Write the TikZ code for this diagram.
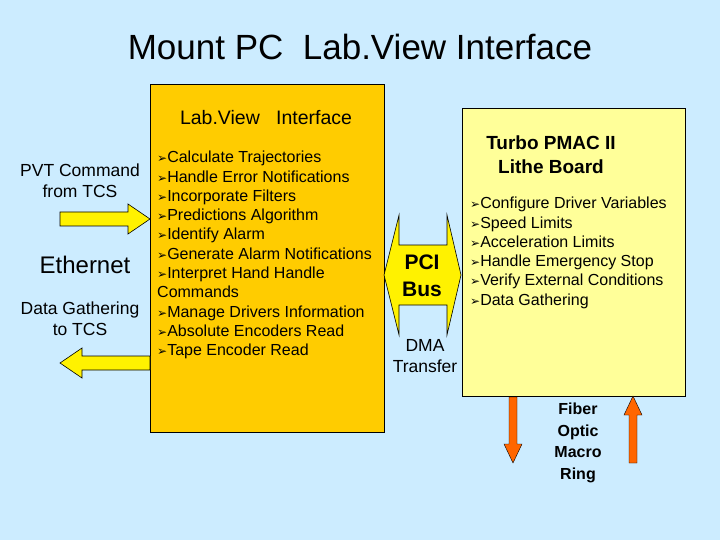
\documentclass[tikz,border=0pt]{standalone}
\usepackage{fontspec}
\setmainfont{Liberation Sans}
\newfontfamily\dejavu{DejaVu Sans}
\usetikzlibrary{positioning}
\definecolor{slideblue}{RGB}{204,236,255}
\definecolor{boxorange}{RGB}{255,204,0}
\definecolor{boxyellow}{RGB}{255,255,153}
\definecolor{fiberorange}{RGB}{255,102,0}
\newcommand{\itm}{{\dejavu\fontsize{12}{12}\selectfont\char"27A2}}
\tikzset{
  box/.style={draw=black, line width=0.6pt, anchor=north west, inner sep=0pt},
  fatarrow/.style={draw=black, line width=0.6pt, fill=yellow},
  fiber/.style={draw=black, line width=0.4pt, fill=fiberorange},
  lbl/.style={align=center, font=\fontsize{17.5}{21}\selectfont},
  items/.style={anchor=north west, align=left, inner sep=0pt, font=\fontsize{16}{19.3}\selectfont}
}
\begin{document}
\begin{tikzpicture}[x=1pt,y=-1pt]
        \fill [slideblue] (0,0) rectangle (720,540);
        \useasboundingbox (0,0) rectangle (720,540);
        \node (Title) at (360,47) {\fontsize{35}{38}\selectfont Mount PC\ \ Lab.View Interface};
        % boxes
        \node [box, fill=boxorange, minimum width=234pt, minimum height=348pt] (LabView) at (150,84) {};
        \node [box, fill=boxyellow, minimum width=223pt, minimum height=288pt] (PMAC) at (462,108) {};
        \node [font=\fontsize{19.5}{22}\selectfont] (LabViewTitle) at (266,118) {Lab.View\ \ \ Interface};
        \node [items] (LabViewItems) at (157,151) {
            \itm Calculate Trajectories \\
            \itm Handle Error Notifications \\
            \itm Incorporate Filters \\
            \itm Predictions Algorithm \\
            \itm Identify Alarm \\
            \itm Generate Alarm Notifications \\
            \itm Interpret Hand Handle \\
            Commands \\
            \itm Manage Drivers Information \\
            \itm Absolute Encoders Read \\
            \itm Tape Encoder Read
        };
        \node [align=center, font=\bfseries\fontsize{19}{24}\selectfont] (PMACTitle) at (551,155) {Turbo PMAC II\\ Lithe Board};
        \node [items] (PMACItems) at (470,197) {
            \itm Configure Driver Variables \\
            \itm Speed Limits \\
            \itm Acceleration Limits \\
            \itm Handle Emergency Stop \\
            \itm Verify External Conditions \\
            \itm Data Gathering
        };
        % left side
        \node [lbl] (PVT) at (80,181) {PVT Command\\from TCS};
        \node [font=\fontsize{24}{26}\selectfont] (Ethernet) at (85,265) {Ethernet};
        \node [lbl] (Gathering) at (80,319) {Data Gathering\\to TCS};
        \draw [fatarrow] (60,212) -- (128,212) -- (128,204) -- (LabView.west |- 0,219) -- (128,234) -- (128,226) -- (60,226) -- cycle;
        \draw [fatarrow] (LabView.west |- 0,356) -- (82,356) -- (82,348) -- (60,363) -- (82,378) -- (82,370) -- (LabView.west |- 0,370) -- cycle;
        % PCI bus
        \draw [fatarrow] (384,275) -- (399,215) -- (399,245) -- (447,245) -- (447,215) -- (461,275)
            -- (447,335) -- (447,305) -- (399,305) -- (399,335) -- cycle;
        \node [align=center, font=\bfseries\fontsize{21}{27}\selectfont] (PCI) at (422,276) {PCI\\Bus};
        \node [lbl] (DMA) at (425,356) {DMA\\Transfer};
        % fiber optic ring
        \node [align=center, font=\bfseries\fontsize{16}{21.5}\selectfont] (Fiber) at (578,443) {Fiber\\Optic\\Macro\\Ring};
        \draw [fiber] (509,397) -- (517,397) -- (517,444) -- (522,444) -- (513,463) -- (504,444) -- (509,444) -- cycle;
        \draw [fiber] (629,463) -- (637,463) -- (637,415) -- (642,415) -- (633,396) -- (624,415) -- (629,415) -- cycle;
\end{tikzpicture}
\end{document}
